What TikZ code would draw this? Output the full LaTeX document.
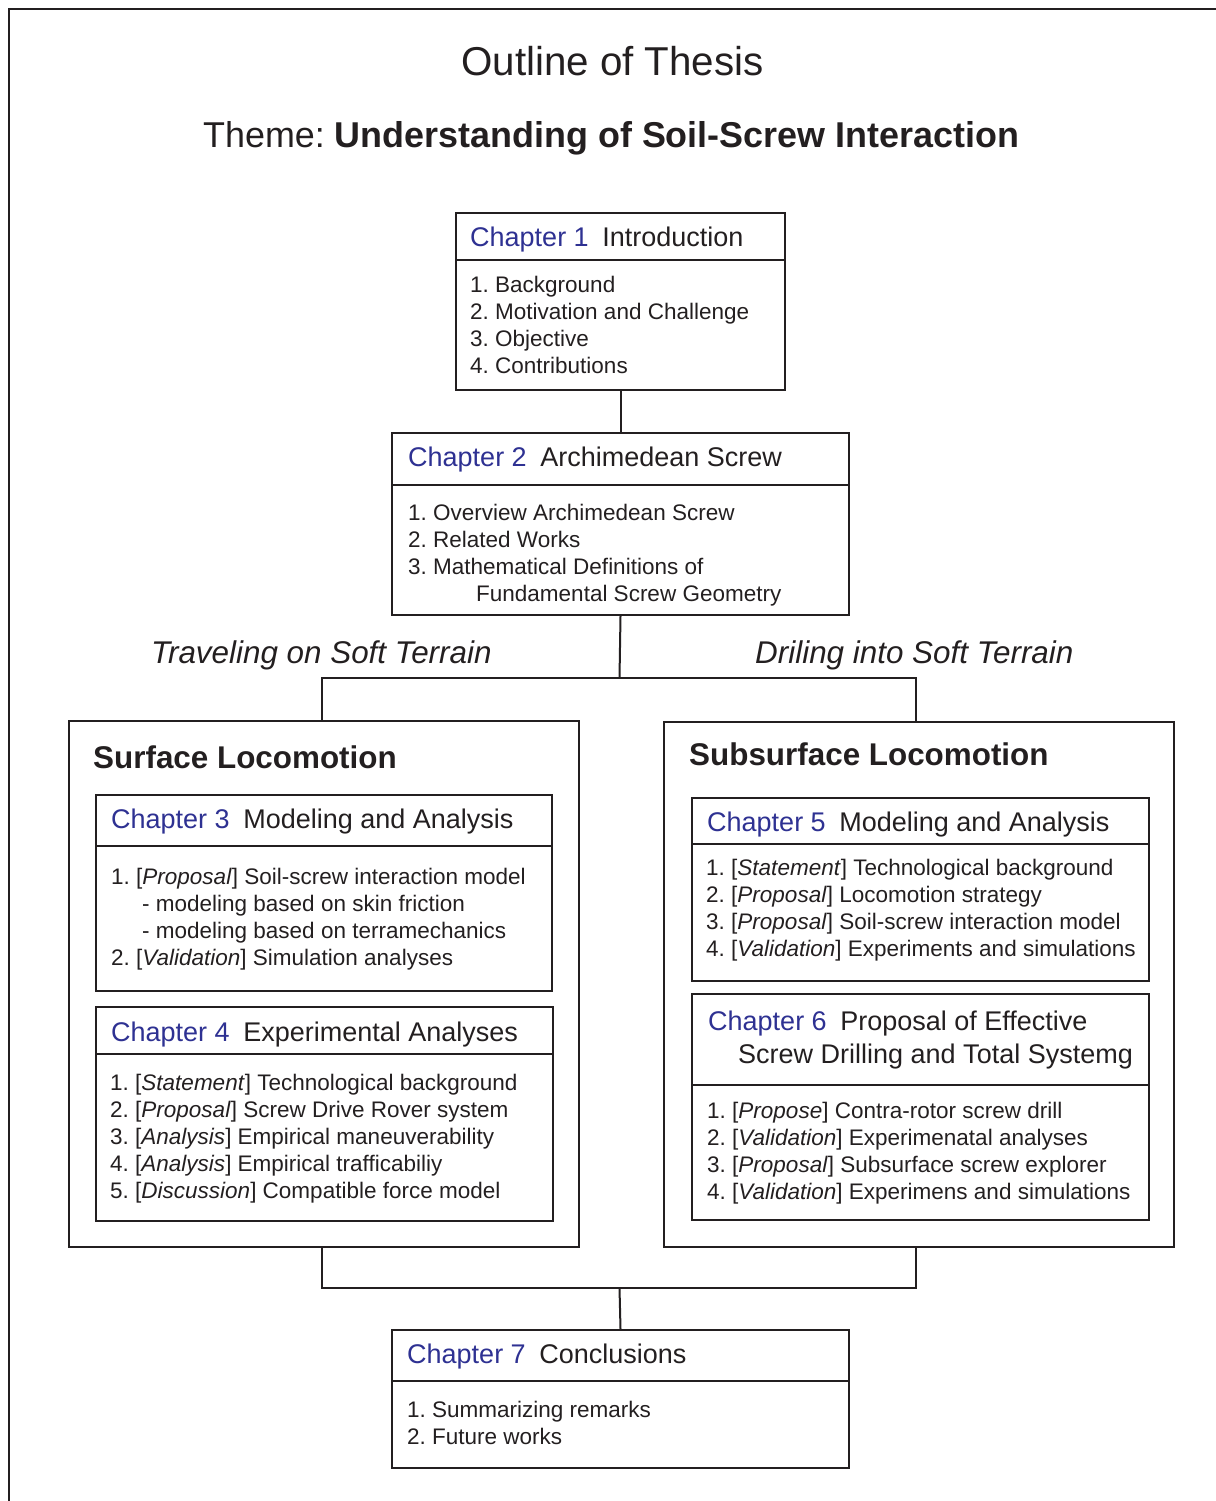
\documentclass[tikz,border=0pt]{standalone}
\usepackage{fontspec}
\setmainfont{Liberation Sans}
\frenchspacing
\definecolor{ink}{HTML}{231F20}
\definecolor{chblue}{HTML}{2E3192}
\newcommand\chp[1]{\textcolor{chblue}{Chapter #1}\hspace{0.5em}}
\tikzset{
  box/.style={draw=ink, line width=2pt, inner sep=0pt, anchor=north west},
  conn/.style={draw=ink, line width=2pt},
  item/.style={anchor=base west, inner sep=0pt, text=ink, font=\fontsize{22.5}{27}\selectfont},
  head/.style={anchor=base west, inner sep=0pt, text=ink, font=\fontsize{27}{33}\selectfont},
  sect/.style={anchor=base west, inner sep=0pt, text=ink, font=\fontsize{31.4}{37}\selectfont\bfseries},
  lbl/.style={anchor=base west, inner sep=0pt, text=ink, font=\fontsize{31.4}{37}\selectfont\itshape},
}
\begin{document}
\begin{tikzpicture}[x=1pt,y=-1pt]
\useasboundingbox (0,0) rectangle (1215,1501);
% outer frame (cut off at right and bottom)
\draw[ink, line width=2.6pt] (9,1510) -- (9,9) -- (1225,9);

% titles
\node[anchor=base, inner sep=0pt, text=ink, font=\fontsize{40.3}{48}\selectfont] (title) at (612.5,76) {Outline of Thesis};
\node[anchor=base west, inner sep=0pt, text=ink, font=\fontsize{35.9}{43}\selectfont] (theme) at (203,147) {Theme: \textbf{Understanding of Soil-Screw Interaction}};

% Chapter 1
\node[box, minimum width=329pt, minimum height=177pt] (ch1) at (455,212) {};
\draw[conn] (ch1.west |- 0,260) -- (ch1.east |- 0,260);
\node[head] (c1h) at (470,246) {\chp{1}Introduction};
\node[item] (c1a) at (470,292) {1. Background};
\node[item] (c1b) at (470,319) {2. Motivation and Challenge};
\node[item] (c1c) at (470,346) {3. Objective};
\node[item] (c1d) at (470,373) {4. Contributions};

% Chapter 2
\node[box, minimum width=457pt, minimum height=182pt] (ch2) at (391,432) {};
\draw[conn] (ch2.west |- 0,485) -- (ch2.east |- 0,485);
\node[head] (c2h) at (408,466) {\chp{2}Archimedean Screw};
\node[item] (c2a) at (408,520) {1. Overview Archimedean Screw};
\node[item] (c2b) at (408,547) {2. Related Works};
\node[item] (c2c) at (408,574) {3. Mathematical Definitions of};
\node[item] (c2d) at (476,601) {Fundamental Screw Geometry};

% path labels
\node[lbl] (trav) at (151,663) {Traveling on Soft Terrain};
\node[lbl] (dril) at (755,663) {Driling into Soft Terrain};

% Surface locomotion
\node[box, minimum width=510pt, minimum height=526pt] (surf) at (68,720) {};
\node[sect] (surft) at (93,768) {Surface Locomotion};

\node[box, minimum width=456pt, minimum height=196pt] (ch3) at (95,794) {};
\draw[conn] (ch3.west |- 0,846) -- (ch3.east |- 0,846);
\node[head] (c3h) at (111,828) {\chp{3}Modeling and Analysis};
\node[item] (c3a) at (111,884) {1. [\textit{Proposal}] Soil-screw interaction model};
\node[item] (c3b) at (142,911) {- modeling based on skin friction};
\node[item] (c3c) at (142,938) {- modeling based on terramechanics};
\node[item] (c3d) at (111,965) {2. [\textit{Validation}] Simulation analyses};

\node[box, minimum width=457pt, minimum height=214pt] (ch4) at (95,1006) {};
\draw[conn] (ch4.west |- 0,1054) -- (ch4.east |- 0,1054);
\node[head] (c4h) at (111,1041) {\chp{4}Experimental Analyses};
\node[item] (c4a) at (110,1090) {1. [\textit{Statement}] Technological background};
\node[item] (c4b) at (110,1117) {2. [\textit{Proposal}] Screw Drive Rover system};
\node[item] (c4c) at (110,1144) {3. [\textit{Analysis}] Empirical maneuverability};
\node[item] (c4d) at (110,1171) {4. [\textit{Analysis}] Empirical trafficabiliy};
\node[item] (c4e) at (110,1198) {5. [\textit{Discussion}] Compatible force model};

% Subsurface locomotion
\node[box, minimum width=510pt, minimum height=525pt] (sub) at (663,721) {};
\node[sect] (subt) at (689,765) {Subsurface Locomotion};

\node[box, minimum width=457pt, minimum height=183pt] (ch5) at (691,797) {};
\draw[conn] (ch5.west |- 0,844) -- (ch5.east |- 0,844);
\node[head] (c5h) at (707,831) {\chp{5}Modeling and Analysis};
\node[item] (c5a) at (706,875) {1. [\textit{Statement}] Technological background};
\node[item] (c5b) at (706,902) {2. [\textit{Proposal}] Locomotion strategy};
\node[item] (c5c) at (706,929) {3. [\textit{Proposal}] Soil-screw interaction model};
\node[item] (c5d) at (706,956) {4. [\textit{Validation}] Experiments and simulations};

\node[box, minimum width=457pt, minimum height=226pt] (ch6) at (691,993) {};
\draw[conn] (ch6.west |- 0,1085) -- (ch6.east |- 0,1085);
\node[head] (c6h) at (708,1030) {\chp{6}Proposal of Effective};
\node[head] (c6h2) at (738,1063) {Screw Drilling and Total Systemg};
\node[item] (c6a) at (707,1118) {1. [\textit{Propose}] Contra-rotor screw drill};
\node[item] (c6b) at (707,1145) {2. [\textit{Validation}] Experimenatal analyses};
\node[item] (c6c) at (707,1172) {3. [\textit{Proposal}] Subsurface screw explorer};
\node[item] (c6d) at (707,1199) {4. [\textit{Validation}] Experimens and simulations};

% Chapter 7
\node[box, minimum width=457pt, minimum height=138pt] (ch7) at (391,1329) {};
\draw[conn] (ch7.west |- 0,1381) -- (ch7.east |- 0,1381);
\node[head] (c7h) at (407,1363) {\chp{7}Conclusions};
\node[item] (c7a) at (407,1417) {1. Summarizing remarks};
\node[item] (c7b) at (407,1444) {2. Future works};

% connectors
\coordinate (jt) at (619.5,678);
\coordinate (jb) at (619.5,1288);
\coordinate (sl) at (322,0);
\coordinate (sr) at (916,0);
\draw[conn] (ch1.south) -- (ch2.north);
\draw[conn] (ch2.south) -- (jt);
\draw[conn] (surf.north -| sl) |- (jt) -| (sub.north -| sr);
\draw[conn] (surf.south -| sl) |- (jb) -| (sub.south -| sr);
\draw[conn] (jb) -- (ch7.north);
\end{tikzpicture}
\end{document}
